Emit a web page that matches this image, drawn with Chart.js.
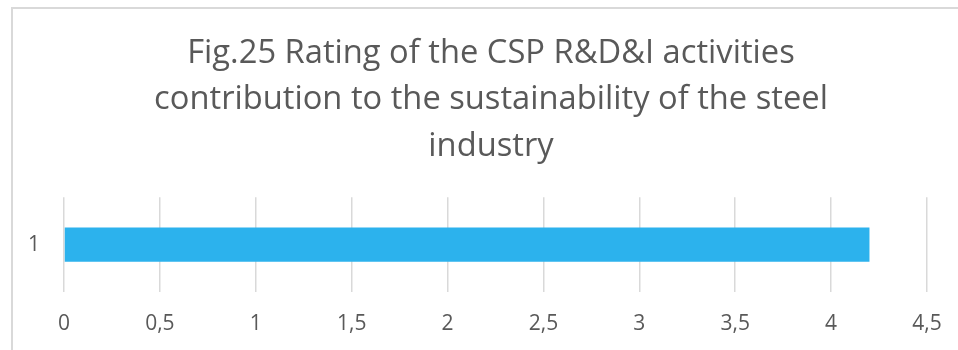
<!DOCTYPE html>
<html>
<head>
<meta charset="utf-8">
<script src="https://cdn.jsdelivr.net/npm/chart.js@4"></script>
<style>
  html, body { margin: 0; padding: 0; background: #ffffff; }
  #wrap { position: relative; width: 958px; height: 350px; overflow: hidden; }
  #frame { position: absolute; left: 11px; top: 7px; width: 1000px; height: 400px;
           border-top: 2px solid #d9d9d9; border-left: 2px solid #d9d9d9; pointer-events: none; }
  canvas { position: absolute; left: 0; top: 0; }
</style>
</head>
<body>
<div id="wrap">
  <div id="frame"></div>
  <!-- the panel runs past the right edge of the view -->
  <canvas id="chart" width="982" height="350"></canvas>
</div>
<script>
// Rating categories and their scores
const categories = ['1'];
const ratings = [4.2];
const titleLines = [
  'Fig.25 Rating of the CSP R&D&I activities',
  'contribution to the sustainability of the steel',
  'industry'
];
const axisMin = 0;
const axisMax = 4.5;
const axisStep = 0.5;

const textColor = '#595959';
const gridColor = '#d9d9d9';
const fontFamily = '"Open Sans", "Noto Sans", sans-serif';

new Chart(document.getElementById('chart'), {
  type: 'bar',
  data: {
    labels: categories,
    datasets: [{
      data: ratings,
      backgroundColor: '#2cb2ed',
      borderWidth: 0,
      categoryPercentage: 0.6,
      barPercentage: 0.6
    }]
  },
  options: {
    indexAxis: 'y',
    responsive: false,
    animation: false,
    devicePixelRatio: 1,
    layout: { padding: { left: 0, right: 0, top: 0, bottom: 0 } },
    plugins: {
      legend: { display: false },
      tooltip: { enabled: false },
      title: {
        display: true,
        text: titleLines,
        color: textColor,
        font: { family: fontFamily, size: 32.7, weight: 'normal', lineHeight: 1.43 },
        padding: { top: 30, bottom: 27 }
      }
    },
    scales: {
      x: {
        min: axisMin,
        max: axisMax,
        border: { display: false },
        grid: { color: gridColor, lineWidth: 1.5, drawTicks: false },
        ticks: {
          stepSize: axisStep,
          padding: 19,
          color: textColor,
          font: { family: fontFamily, size: 21 }
          ,
          callback: (v) => String(Math.round(v * 10) / 10).replace('.', ',')
        },
        afterFit: (scale) => { scale.height = 58; }
      },
      y: {
        border: { display: false },
        grid: { display: false, drawTicks: false },
        ticks: {
          padding: 24,
          color: textColor,
          font: { family: fontFamily, size: 21 }
        },
        afterFit: (scale) => { scale.width = 64; }
      },
      // empty right-hand margin of the plot
      yRight: {
        type: 'category',
        position: 'right',
        border: { display: false },
        grid: { display: false, drawTicks: false },
        ticks: { display: false },
        afterFit: (scale) => { scale.width = 55; }
      }
    }
  }
});
</script>
</body>
</html>
